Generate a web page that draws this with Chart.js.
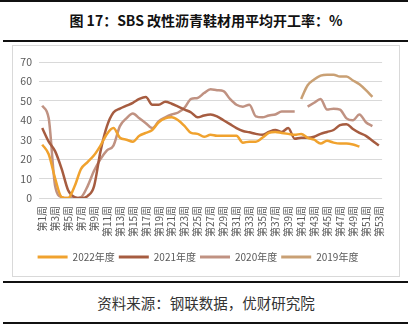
<!DOCTYPE html>
<html>
<head>
<meta charset="utf-8">
<script src="https://cdn.jsdelivr.net/npm/chart.js"></script>
<style>
  body { margin: 0; width: 420px; height: 326px; background: #fff; position: relative; overflow: hidden; font-family: "Noto Sans CJK SC", sans-serif; }
  .rule { position: absolute; left: 3px; width: 405px; height: 2px; background: #111; }
  #title { position: absolute; left: 0; width: 412px; top: 10px; text-align: center; font-size: 14px; font-weight: bold; color: #111; }
  #box { position: absolute; left: 12px; top: 45px; width: 386px; height: 230px; border: 1px solid #d9d9d9; }
  #source { position: absolute; left: 0; width: 412px; top: 292px; text-align: center; font-size: 14.5px; color: #333; }
</style>
</head>
<body>
<div class="rule" style="top:0;left:0;width:408px"></div>
<div id="title">图 17：SBS 改性沥青鞋材用平均开工率：%</div>
<div class="rule" style="top:40px"></div>
<div id="box"><canvas id="chart" width="386" height="230"></canvas></div>
<div class="rule" style="top:281px"></div>
<div id="source">资料来源：钢联数据，优财研究院</div>
<div class="rule" style="top:322px"></div>

<script>
const weeks = [];
for (let i = 1; i <= 53; i++) weeks.push('第' + i + '周');

const yearNames = ['2022年度', '2021年度', '2020年度', '2019年度'];

const y2022 = [27.5, 22.5, 10, 0.5, 0, 6, 15, 18.5, 22, 27, 33, 36, 31, 30, 29, 32, 33.5, 35, 39, 41,
  41.5, 40, 37, 33.5, 33, 31.5, 32.5, 32, 32, 32, 32, 28.5, 29, 29, 31, 33.5, 34, 33.5, 33, 32.5,
  33, 31, 30, 28, 29.5, 28.5, 28, 28, 27.5, 26.5, null, null, null];

const y2021 = [36, 29, 24, 15, 4, 0.5, 0, 1, 6, 24, 37, 44, 46, 47.5, 49, 51, 52, 48, 48, 49.5,
  48.5, 47, 45.5, 44, 41.5, 42.5, 43, 42, 40, 38, 36, 34.5, 33.8, 33, 32.5, 34, 35, 34, 36, 30.5,
  31, 31, 31.5, 33, 34, 35, 37.5, 38, 35.5, 33.5, 32, 29.5, 27];

const y2020 = [47.5, 41, 6, 0.5, 0, 0, 0.5, 6, 14, 20, 24.5, 27, 37, 41, 43.5, 41, 38.5, 36, 39.5, 41.5,
  43, 44, 46.5, 51, 51.5, 54, 56, 55.5, 55, 51, 48, 47, 48, 42, 41.5, 42.5, 43, 44.5, 44.5, 44.5,
  null, 47, 49, 51, 45.5, 46, 45.5, 41, 40, 43, 39, 37, null];

const y2019 = [null, null, null, null, null, null, null, null, null, null,
  null, null, null, null, null, null, null, null, null, null,
  null, null, null, null, null, null, null, null, null, null,
  null, null, null, null, null, null, null, null, null, null,
  51, 58, 61, 63, 63.5, 63.5, 62.5, 62.5, 60.5, 58.5, 55.5, 52, null];

const yTicks = [0, 10, 20, 30, 40, 50, 60, 70];

const colors = ['#F0A22E', '#A65C40', '#C09282', '#C9A074'];
const series = [y2022, y2021, y2020, y2019];

const chartEl = document.getElementById('chart');

new Chart(chartEl, {
  type: 'line',
  data: {
    labels: weeks,
    datasets: series.map((d, i) => ({
      label: yearNames[i],
      data: d,
      borderColor: colors[i],
      backgroundColor: colors[i],
      borderWidth: 2.5,
      pointRadius: 0,
      cubicInterpolationMode: 'monotone',
      fill: false,
    })),
  },
  options: {
    responsive: false,
    animation: false,
    layout: { padding: { top: 16, right: 16, bottom: 4, left: 0 } },
    scales: {
      x: {
        offset: true,
        grid: { display: false, drawTicks: false },
        border: { display: false },
        ticks: {
          autoSkip: false,
          minRotation: 90,
          maxRotation: 90,
          padding: 8,
          color: '#595959',
          font: { size: 10, family: '"Noto Sans CJK SC"' },
          callback: (v, i) => (i % 2 === 0 ? weeks[i] : ''),
        },
        afterFit: (scale) => { scale.height = 50; },
      },
      y: {
        min: yTicks[0],
        max: yTicks[yTicks.length - 1],
        grid: { color: '#d9d9d9', drawTicks: false },
        border: { display: false },
        ticks: {
          stepSize: 10,
          padding: 7,
          color: '#595959',
          font: { size: 10.5, family: '"Noto Sans CJK SC"' },
        },
        afterFit: (scale) => { scale.width = 26; },
      },
    },
    plugins: {
      legend: {
        position: 'bottom',
        labels: {
          boxWidth: 30,
          boxHeight: 3,
          padding: 4,
          color: '#595959',
          font: { size: 10, family: '"Noto Sans CJK SC"' },
          generateLabels: (chart) => {
            const items = Chart.defaults.plugins.legend.labels.generateLabels(chart);
            items.forEach((it) => { it.lineWidth = 0; it.fillStyle = it.strokeStyle; });
            return items;
          },
        },
      },
      tooltip: { enabled: false },
    },
  },
});
</script>
</body>
</html>
